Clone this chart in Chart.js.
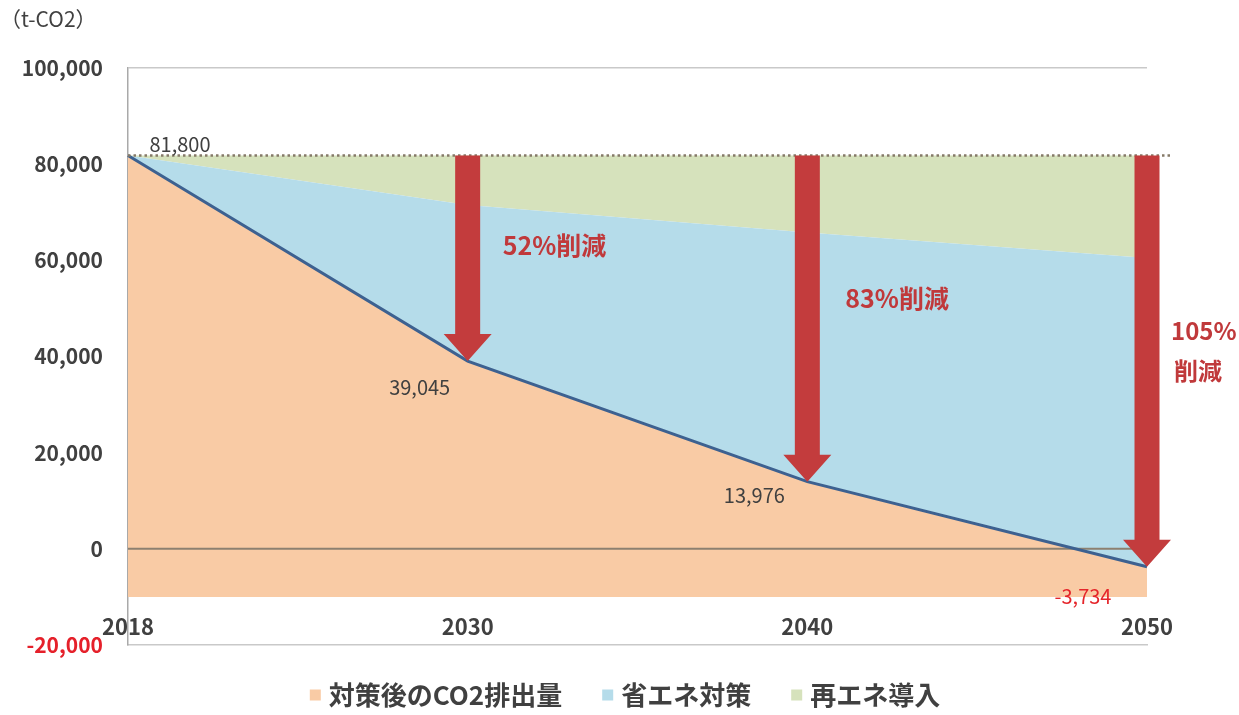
<!DOCTYPE html>
<html lang="ja">
<head>
<meta charset="utf-8">
<title>CO2排出量の削減見通し</title>
<script src="https://cdn.jsdelivr.net/npm/chart.js@4.4.1/dist/chart.umd.min.js"></script>
<style>
  html, body { margin: 0; padding: 0; background: #ffffff; }
  #wrap { position: relative; width: 1239px; height: 715px; }
</style>
</head>
<body>
<div id="wrap"><canvas id="chart" width="1239" height="715"></canvas></div>
<script>
// Years shown on the horizontal axis
const years = ['2018', '2030', '2040', '2050'];
// Emissions after all measures (t-CO2)
const co2After = [81800, 39045, 13976, -3734];
// Upper edge of the energy-saving band (t-CO2)
const savingTop = [81800, 71500, 65800, 60500];
// Base-year emissions, upper edge of the renewable band (t-CO2)
const baseLevel = [81800, 81800, 81800, 81800];
// Vertical axis range and step
const yMin = -20000, yMax = 100000, yStep = 20000;
// Bottom edge of the emissions fill
const fillFloor = -10000;
// Legend labels
const seriesNames = ['対策後のCO2排出量', '省エネ対策', '再エネ導入'];

const JP = '"Noto Sans CJK JP", "Noto Sans", sans-serif';
const C_ORANGE = '#f9cba5';
const C_BLUE = '#b5dcea';
const C_GREEN = '#d6e2bc';
const C_LINE = '#3d6190';
const C_ARROW = '#c33c3d';
const C_TEXT = '#404040';

const fmt = v => (v < 0 ? '-' : '') + Math.abs(v).toLocaleString('en-US');

// Text, dotted base line, zero line, reduction arrows and legend
const annotations = {
  id: 'annotations',
  beforeDatasetsDraw(chart) {
    // zero line sits over the fills but under the emission line
    const { ctx, chartArea: a, scales: { y } } = chart;
    const y0 = y.getPixelForValue(0);
    ctx.save();
    ctx.strokeStyle = '#8d8070';
    ctx.lineWidth = 2;
    ctx.beginPath();
    ctx.moveTo(a.left, y0);
    ctx.lineTo(a.right, y0);
    ctx.stroke();
    ctx.restore();
  },
  afterDatasetsDraw(chart) {
    const { ctx, chartArea: a, scales: { x, y } } = chart;
    ctx.save();

    // dotted base-year line
    const yb = y.getPixelForValue(baseLevel[0]);
    ctx.strokeStyle = '#857a68';
    ctx.lineWidth = 2.5;
    ctx.setLineDash([2.5, 3]);
    ctx.beginPath();
    ctx.moveTo(a.left, yb);
    ctx.lineTo(a.right + 24, yb);
    ctx.stroke();
    ctx.setLineDash([]);

    // reduction arrows from the base level down to each later value
    const shaftW = 25, headW = 48, headH = 27;
    for (let i = 1; i < years.length; i++) {
      const xp = x.getPixelForValue(i);
      const tip = y.getPixelForValue(co2After[i]);
      ctx.fillStyle = C_ARROW;
      ctx.beginPath();
      ctx.moveTo(xp - shaftW / 2, yb);
      ctx.lineTo(xp + shaftW / 2, yb);
      ctx.lineTo(xp + shaftW / 2, tip - headH);
      ctx.lineTo(xp + headW / 2, tip - headH);
      ctx.lineTo(xp, tip);
      ctx.lineTo(xp - headW / 2, tip - headH);
      ctx.lineTo(xp - shaftW / 2, tip - headH);
      ctx.closePath();
      ctx.fill();
    }

    // reduction rates
    const pct = i => Math.round((baseLevel[i] - co2After[i]) / baseLevel[i] * 100) + '%';
    ctx.fillStyle = '#c0393b';
    ctx.font = 'bold 25px ' + JP;
    ctx.textAlign = 'left';
    ctx.textBaseline = 'middle';
    ctx.fillText(pct(1) + '削減', x.getPixelForValue(1) + 35, 245);
    ctx.fillText(pct(2) + '削減', x.getPixelForValue(2) + 38, 298);
    ctx.font = 'bold 24px ' + JP;
    ctx.fillText(pct(3), x.getPixelForValue(3) + 24, 331);
    ctx.fillText('削減', x.getPixelForValue(3) + 27, 371);

    // value labels on the emission line
    const offs = [[52, -11], [-48, 26], [-53, 14], [-64, 30]];
    ctx.font = '20px ' + JP;
    ctx.textAlign = 'center';
    co2After.forEach((v, i) => {
      ctx.fillStyle = v < 0 ? '#e5252a' : C_TEXT;
      ctx.fillText(fmt(v), x.getPixelForValue(i) + offs[i][0], y.getPixelForValue(v) + offs[i][1]);
    });

    // year labels just above the bottom axis
    ctx.fillStyle = C_TEXT;
    ctx.font = 'bold 22px ' + JP;
    x.ticks.forEach((t, i) => {
      ctx.fillText(x.getLabelForValue(t.value), x.getPixelForTick(i), a.bottom - 18);
    });

    // unit
    ctx.font = '21px ' + JP;
    ctx.textAlign = 'left';
    ctx.fillText('（t-CO2）', 0, 19);

    // legend
    ctx.font = 'bold 26px ' + JP;
    const box = 11, boxGap = 8, itemGap = 40;
    const widths = chart.data.datasets.map(d => ctx.measureText(d.label).width);
    const total = widths.reduce((s, w) => s + box + boxGap + w, 0) + itemGap * (widths.length - 1);
    let lx = 625 - total / 2;
    const ly = 695;
    chart.data.datasets.forEach((d, i) => {
      ctx.fillStyle = d.backgroundColor;
      ctx.fillRect(lx, ly - box / 2, box, box);
      ctx.fillStyle = C_TEXT;
      ctx.fillText(d.label, lx + box + boxGap, ly);
      lx += box + boxGap + widths[i] + itemGap;
    });
    ctx.restore();
  }
};

new Chart(document.getElementById('chart'), {
  type: 'line',
  data: {
    labels: years,
    datasets: [
      {
        label: seriesNames[0],
        data: co2After,
        borderColor: C_LINE,
        borderWidth: 3,
        backgroundColor: C_ORANGE,
        fill: { value: fillFloor },
        pointRadius: 0,
        tension: 0
      },
      {
        label: seriesNames[1],
        data: savingTop,
        borderWidth: 0,
        borderColor: 'rgba(0,0,0,0)',
        backgroundColor: C_BLUE,
        fill: '-1',
        pointRadius: 0,
        tension: 0
      },
      {
        label: seriesNames[2],
        data: baseLevel,
        borderWidth: 0,
        borderColor: 'rgba(0,0,0,0)',
        backgroundColor: C_GREEN,
        fill: '-1',
        pointRadius: 0,
        tension: 0
      }
    ]
  },
  options: {
    responsive: false,
    animation: false,
    events: [],
    layout: { padding: { top: 68, right: 92, left: 0, bottom: 50 } },
    scales: {
      x: {
        type: 'category',
        offset: false,
        grid: { display: false },
        border: { display: true, color: '#c9c9c9', width: 1.5 },
        ticks: { display: false },
        afterFit(s) { s.height = 20; }
      },
      y: {
        min: yMin,
        max: yMax,
        ticks: {
          stepSize: yStep,
          padding: 25,
          font: { family: JP, size: 21, weight: 'bold' },
          color: c => (c.tick && c.tick.value < 0 ? '#e5202a' : C_TEXT),
          callback: v => fmt(v)
        },
        grid: {
          drawTicks: false,
          color: c => (c.tick && c.tick.value === yMax ? '#c9c9c9' : 'rgba(0,0,0,0)'),
          lineWidth: 1.5
        },
        border: { display: true, color: '#a9a9a9', width: 1.5 },
        afterFit(s) { s.width = 128; }
      }
    },
    plugins: {
      filler: { drawTime: 'beforeDatasetsDraw', propagate: false },
      tooltip: { enabled: false },
      legend: { display: false }
    }
  },
  plugins: [annotations]
});
</script>
</body>
</html>
